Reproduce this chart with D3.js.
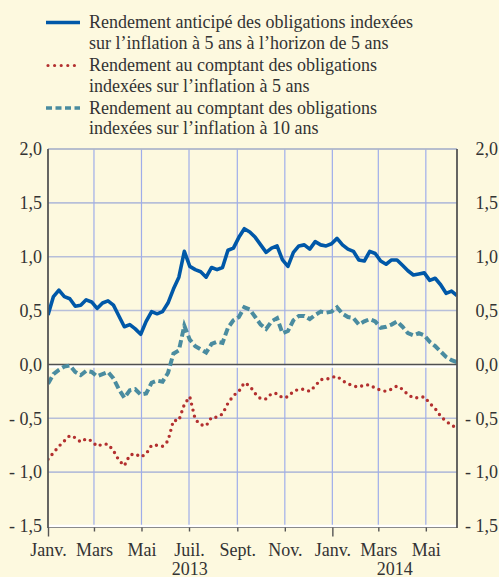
<!DOCTYPE html>
<html>
<head>
<meta charset="utf-8">
<script src="https://cdn.jsdelivr.net/npm/d3@7"></script>
<style>
  html, body { margin: 0; padding: 0; background: #fdf9df; }
  svg { display: block; }
</style>
</head>
<body>
<script>
// weekly observations, first one on 1 Jan 2013
var startDate = new Date(2013, 0, 1), stepDays = 7;

var forwardRate = [
  0.46,0.63,0.69,0.63,0.61,0.54,0.55,0.60,0.58,0.52,
  0.57,0.59,0.55,0.45,0.35,0.37,0.33,0.28,0.40,0.49,
  0.47,0.49,0.57,0.70,0.81,1.05,0.91,0.88,0.86,0.81,
  0.90,0.88,0.90,1.06,1.08,1.18,1.26,1.23,1.18,1.11,
  1.04,1.08,1.10,0.97,0.91,1.04,1.10,1.11,1.07,1.14,
  1.11,1.10,1.12,1.17,1.11,1.07,1.05,0.97,0.96,1.05,
  1.03,0.96,0.93,0.97,0.97,0.92,0.87,0.83,0.84,0.85,
  0.78,0.80,0.74,0.66,0.68,0.64
];
var spot5 = [
  -0.88,-0.82,-0.76,-0.71,-0.66,-0.68,-0.72,-0.69,-0.71,-0.76,
  -0.74,-0.74,-0.80,-0.89,-0.94,-0.84,-0.83,-0.86,-0.83,-0.75,
  -0.75,-0.76,-0.71,-0.52,-0.52,-0.37,-0.30,-0.51,-0.56,-0.57,
  -0.49,-0.49,-0.46,-0.36,-0.29,-0.25,-0.17,-0.20,-0.27,-0.32,
  -0.32,-0.27,-0.27,-0.31,-0.30,-0.25,-0.23,-0.23,-0.25,-0.20,
  -0.14,-0.14,-0.12,-0.11,-0.15,-0.18,-0.20,-0.21,-0.19,-0.19,
  -0.22,-0.24,-0.25,-0.23,-0.20,-0.23,-0.28,-0.31,-0.31,-0.30,
  -0.36,-0.41,-0.48,-0.53,-0.56,-0.60
];
var spot10 = [
  -0.18,-0.09,-0.05,-0.02,-0.01,-0.07,-0.10,-0.06,-0.07,-0.11,
  -0.09,-0.07,-0.13,-0.23,-0.31,-0.24,-0.23,-0.28,-0.27,-0.17,
  -0.15,-0.16,-0.08,0.10,0.13,0.36,0.23,0.17,0.14,0.11,
  0.19,0.21,0.20,0.34,0.41,0.44,0.53,0.51,0.44,0.37,
  0.33,0.40,0.43,0.29,0.31,0.41,0.45,0.45,0.42,0.46,
  0.49,0.48,0.49,0.53,0.47,0.44,0.43,0.37,0.40,0.42,
  0.40,0.34,0.35,0.37,0.40,0.35,0.29,0.27,0.29,0.27,
  0.21,0.17,0.12,0.07,0.04,0.02
];

var monthLabels = ["Janv.", "Mars", "Mai", "Juil.", "Sept.", "Nov.", "Janv.", "Mars", "Mai"];
var yearLabels = ["2013", "2014"];
var yearDates = [new Date(2013, 6, 2), new Date(2014, 2, 22)];
var yTicks = [2, 1.5, 1, 0.5, 0, -0.5, -1, -1.5];

var legendLabels = [
  ["Rendement anticipé des obligations indexées", "sur l\u2019inflation à 5 ans à l\u2019horizon de 5 ans"],
  ["Rendement au comptant des obligations", "indexées sur l\u2019inflation à 5 ans"],
  ["Rendement au comptant des obligations", "indexées sur l\u2019inflation à 10 ans"]
];

var width = 499, height = 577;
var margin = {top: 149, right: 42, bottom: 51, left: 48};
var serif = "'Liberation Serif', 'Times New Roman', serif";
var blue = "#0058a8", red = "#b3302f", teal = "#4a8ca0", ink = "#333333";

var svg = d3.select("body").append("svg")
  .attr("width", width)
  .attr("height", height);

svg.append("rect").attr("width", width).attr("height", height).attr("fill", "#fdf9df");

var x = d3.scaleTime()
  .domain([startDate, d3.timeDay.offset(startDate, stepDays * (forwardRate.length - 1))])
  .range([margin.left, width - margin.right]);

var y = d3.scaleLinear()
  .domain([-1.5, 2])
  .range([height - margin.bottom, margin.top]);

var tickDates = d3.timeMonth.every(2).range(new Date(2013, 2, 1), new Date(2014, 5, 2));

// grid
svg.append("g").selectAll("line")
  .data(yTicks.filter(function(d) { return d != 0 && d != -1.5; }))
  .enter().append("line")
  .attr("x1", x.range()[0]).attr("x2", x.range()[1])
  .attr("y1", function(d) { return y(d); })
  .attr("y2", function(d) { return y(d); })
  .attr("stroke", "#b7bfd9").attr("stroke-width", 1.6);

svg.append("g").selectAll("line")
  .data(tickDates)
  .enter().append("line")
  .attr("x1", function(d) { return x(d); })
  .attr("x2", function(d) { return x(d); })
  .attr("y1", y(2)).attr("y2", y(-1.5))
  .attr("stroke", "#9fadea").attr("stroke-width", 1.2);

// zero line
svg.append("line")
  .attr("x1", x.range()[0]).attr("x2", x.range()[1])
  .attr("y1", y(0) + 2).attr("y2", y(0) + 2)
  .attr("stroke", "#ffffff").attr("stroke-width", 2.5);
svg.append("line")
  .attr("x1", x.range()[0]).attr("x2", x.range()[1])
  .attr("y1", y(0)).attr("y2", y(0))
  .attr("stroke", "#505050").attr("stroke-width", 1.6);

// series
svg.append("clipPath").attr("id", "plot").append("rect")
  .attr("x", x.range()[0]).attr("y", y(2))
  .attr("width", x.range()[1] - x.range()[0])
  .attr("height", y(-1.5) - y(2));

var line = d3.line()
  .x(function(d, i) { return x(d3.timeDay.offset(startDate, stepDays * i)); })
  .y(function(d) { return y(d); });

var series = svg.append("g").attr("clip-path", "url(#plot)");

series.append("path").datum(spot10)
  .attr("d", line).attr("fill", "none")
  .attr("stroke", teal).attr("stroke-width", 4)
  .attr("stroke-dasharray", "7.5,3.5");

series.append("path").datum(spot5)
  .attr("d", line).attr("fill", "none")
  .attr("stroke", red).attr("stroke-width", 3.4)
  .attr("stroke-linecap", "round")
  .attr("stroke-dasharray", "0,6.2");

series.append("path").datum(forwardRate)
  .attr("d", line).attr("fill", "none")
  .attr("stroke", blue).attr("stroke-width", 3.6)
  .attr("stroke-linejoin", "round");

// frame
svg.append("line")
  .attr("x1", x.range()[0]).attr("x2", x.range()[1])
  .attr("y1", y(2)).attr("y2", y(2))
  .attr("stroke", "#b0b8c8").attr("stroke-width", 1.6);
svg.append("line")
  .attr("x1", x.range()[0]).attr("x2", x.range()[1])
  .attr("y1", y(-1.5)).attr("y2", y(-1.5))
  .attr("stroke", "#ffffff").attr("stroke-width", 2.5);
svg.append("line")
  .attr("x1", x.range()[0]).attr("x2", x.range()[1])
  .attr("y1", y(-1.5) + 1.5).attr("y2", y(-1.5) + 1.5)
  .attr("stroke", "#8a8a8a").attr("stroke-width", 1);
[x.range()[0], x.range()[1]].forEach(function(px) {
  svg.append("line")
    .attr("x1", px).attr("x2", px)
    .attr("y1", y(2)).attr("y2", y(-1.5) + 2)
    .attr("stroke", "#555555").attr("stroke-width", 1.8);
});

// x axis
var allTicks = [startDate].concat(tickDates);
var xAxis = svg.append("g")
  .attr("transform", "translate(0," + (y(-1.5) + 1.5) + ")")
  .call(d3.axisBottom(x).tickValues(allTicks)
    .tickSize(4)
    .tickFormat(function(d, i) { return monthLabels[i]; }));
xAxis.select(".domain").remove();
xAxis.selectAll(".tick line")
  .attr("stroke", "#555555").attr("stroke-width", 1.4)
  .attr("y2", function(d) { return d.getMonth() == 0 ? 9 : 4; });
xAxis.selectAll(".tick text")
  .attr("y", 16)
  .attr("font-family", serif).attr("font-size", 18).attr("fill", ink);

svg.append("g").selectAll("text")
  .data(yearLabels)
  .enter().append("text")
  .attr("x", function(d, i) { return x(yearDates[i]); })
  .attr("y", 575)
  .attr("text-anchor", "middle")
  .attr("font-family", serif).attr("font-size", 18).attr("fill", ink)
  .text(function(d) { return d; });

// y axes
var fmt = function(d) {
  var s = d3.format(".1f")(Math.abs(d)).replace(".", ",");
  return d < 0 ? "- " + s : s;
};
var yLeft = svg.append("g")
  .attr("transform", "translate(" + (margin.left - 6) + ",0)")
  .call(d3.axisLeft(y).tickValues(yTicks).tickSize(0).tickFormat(fmt));
var yRight = svg.append("g")
  .attr("transform", "translate(" + (width - 1) + ",0)")
  .call(d3.axisLeft(y).tickValues(yTicks).tickSize(0).tickFormat(fmt));
[yLeft, yRight].forEach(function(g) {
  g.select(".domain").remove();
  g.selectAll(".tick text")
    .attr("x", 0)
    .attr("font-family", serif).attr("font-size", 18).attr("fill", ink);
});

// legend
var legendY = [22.5, 65.5, 108];
var legend = svg.append("g").selectAll("g")
  .data(legendLabels)
  .enter().append("g")
  .attr("transform", function(d, i) { return "translate(0," + legendY[i] + ")"; });

legend.append("line")
  .attr("x1", function(d, i) { return i == 1 ? 48 : 46; })
  .attr("x2", 80).attr("y1", 0).attr("y2", 0)
  .attr("stroke", function(d, i) { return [blue, red, teal][i]; })
  .attr("stroke-width", function(d, i) { return [3.6, 3.2, 3.6][i]; })
  .attr("stroke-linecap", function(d, i) { return i == 1 ? "round" : "butt"; })
  .attr("stroke-dasharray", function(d, i) { return [null, "0,6.6", "6,3.5"][i]; });

legend.append("text")
  .attr("x", 89)
  .attr("y", 5.5)
  .attr("font-family", serif).attr("font-size", 18).attr("fill", ink)
  .selectAll("tspan")
  .data(function(d) { return d; })
  .enter().append("tspan")
  .attr("x", 89)
  .attr("dy", function(d, i) { return i == 0 ? 0 : 20.5; })
  .text(function(d) { return d; });
</script>
</body>
</html>
